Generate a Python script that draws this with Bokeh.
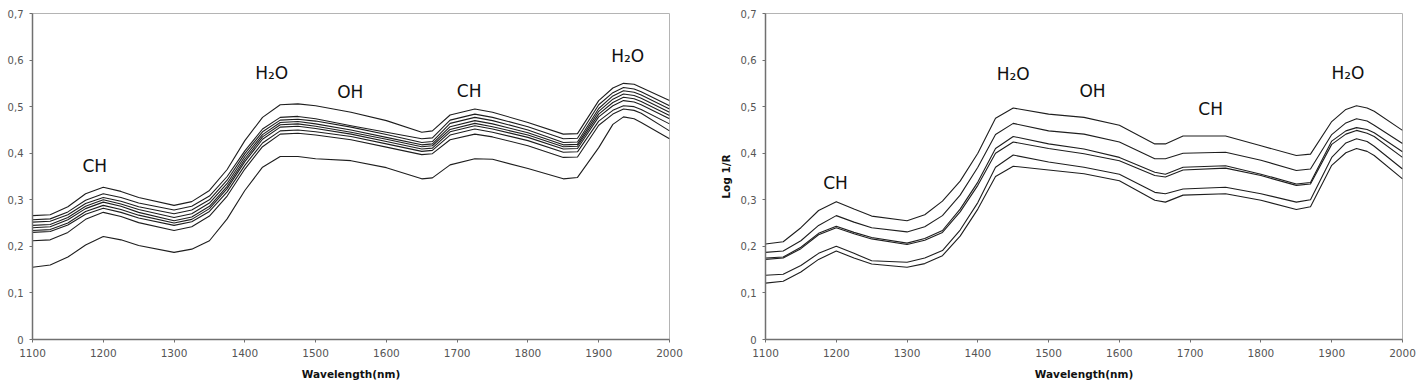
from bokeh.plotting import figure
from bokeh.layouts import row
from bokeh.models import FixedTicker, CustomJSTickFormatter, Range1d
from bokeh.core.properties import value
from bokeh.embed import file_html
from bokeh.resources import INLINE

# ---------------- data ----------------
x_ticks = [1100, 1200, 1300, 1400, 1500, 1600, 1700, 1800, 1900, 2000]
x_tick_labels = ["1100", "1200", "1300", "1400", "1500", "1600", "1700", "1800", "1900", "2000"]
y_ticks = [0, 0.1, 0.2, 0.3, 0.4, 0.5, 0.6, 0.7]
y_tick_labels = ["0", "0,1", "0,2", "0,3", "0,4", "0,5", "0,6", "0,7"]

wavelength_left = [1100, 1125, 1150, 1175, 1200, 1225, 1250, 1300, 1325, 1350, 1375, 1400, 1425,
                   1450, 1475, 1500, 1550, 1600, 1650, 1665, 1690, 1725, 1750, 1800, 1850, 1870,
                   1900, 1920, 1935, 1950, 1960, 2000]

left_s1 = [.266, .268, .285, .313, .327, .318, .305, .288, .296, .320, .365, .427, .477,
           .504, .506, .502, .488, .470, .445, .448, .482, .495, .488, .466, .441, .442,
           .513, .540, .550, .548, .541, .513]
left_s2 = [.257, .259, .274, .299, .313, .305, .293, .278, .286, .308, .350, .405, .452,
           .477, .479, .474, .459, .445, .431, .433, .471, .484, .477, .457, .431, .432,
           .504, .530, .541, .538, .532, .502]
left_s3 = [.252, .254, .268, .292, .305, .297, .285, .270, .278, .300, .342, .399, .446,
           .471, .473, .469, .456, .440, .423, .425, .464, .477, .470, .450, .423, .424,
           .496, .523, .534, .531, .525, .495]
left_s4 = [.245, .247, .262, .286, .300, .291, .279, .262, .270, .293, .335, .393, .440,
           .466, .468, .463, .450, .434, .418, .420, .457, .470, .463, .444, .418, .419,
           .490, .516, .527, .524, .518, .488]
left_s5 = [.240, .242, .257, .281, .295, .286, .273, .255, .263, .286, .329, .387, .435,
           .461, .463, .458, .445, .430, .414, .416, .451, .464, .457, .439, .414, .415,
           .484, .509, .520, .517, .511, .481]
left_s6 = [.234, .236, .250, .275, .288, .279, .267, .250, .258, .281, .324, .382, .430,
           .456, .458, .453, .441, .425, .409, .411, .446, .459, .452, .434, .409, .410,
           .478, .502, .513, .510, .504, .474]
left_s7 = [.230, .232, .246, .269, .282, .273, .261, .245, .253, .275, .317, .374, .422,
           .448, .450, .446, .436, .420, .404, .406, .439, .452, .445, .427, .402, .403,
           .469, .492, .502, .500, .494, .463]
left_s8 = [.212, .214, .230, .258, .273, .264, .251, .234, .242, .265, .308, .366, .414,
           .441, .443, .439, .429, .413, .397, .399, .429, .441, .435, .416, .391, .392,
           .460, .484, .495, .492, .486, .448]
left_s9 = [.155, .160, .177, .203, .221, .214, .202, .187, .194, .212, .259, .320, .370,
           .393, .393, .388, .384, .369, .345, .347, .375, .388, .387, .367, .345, .348,
           .412, .462, .478, .474, .466, .431]

wavelength_right = [1100, 1125, 1150, 1175, 1200, 1225, 1250, 1300, 1325, 1350, 1375, 1400, 1425,
                    1450, 1500, 1550, 1600, 1650, 1665, 1690, 1750, 1800, 1850, 1870, 1900,
                    1920, 1935, 1950, 1960, 2000]

right_s1 = [.205, .210, .240, .277, .296, .280, .265, .255, .268, .297, .340, .400, .475,
            .497, .484, .477, .460, .420, .420, .437, .437, .416, .395, .398, .468,
            .494, .502, .497, .490, .449]
right_s2 = [.187, .190, .212, .245, .266, .252, .240, .231, .242, .266, .310, .370, .440,
            .464, .448, .441, .424, .388, .388, .400, .402, .385, .363, .366, .440,
            .465, .474, .469, .460, .421]
right_s3 = [.175, .177, .198, .228, .243, .230, .219, .207, .217, .234, .280, .338, .410,
            .436, .420, .409, .391, .359, .355, .370, .373, .355, .334, .337, .426,
            .448, .455, .451, .444, .403]
right_s4 = [.172, .175, .195, .225, .240, .227, .216, .204, .213, .230, .274, .331, .400,
            .424, .410, .399, .384, .352, .349, .364, .368, .352, .331, .334, .419,
            .441, .449, .443, .436, .391]
right_s5 = [.138, .140, .159, .185, .200, .185, .169, .166, .175, .191, .235, .294, .370,
            .396, .381, .370, .355, .316, .313, .323, .327, .313, .295, .300, .391,
            .422, .431, .425, .415, .366]
right_s6 = [.121, .125, .145, .172, .190, .175, .162, .155, .163, .180, .222, .280, .350,
            .372, .364, .356, .341, .299, .295, .310, .313, .299, .279, .285, .374,
            .401, .410, .404, .395, .345]

left_label_text = ["CH", "H\u2082O", "OH", "CH", "H\u2082O"]
left_label_x = [1188, 1438, 1549, 1717, 1941]
left_label_y = [0.372, 0.572, 0.531, 0.533, 0.608]

right_label_text = ["CH", "H\u2082O", "OH", "CH", "H\u2082O"]
right_label_x = [1199, 1450, 1562, 1729, 1923]
right_label_y = [0.336, 0.571, 0.533, 0.494, 0.572]

x_axis_title = "Wavelength(nm)"
y_axis_title_right = "Log 1/R"

# ---------------- drawing ----------------
LINE_COLOR = "#1e1e1e"
FMT_CODE = ("const i = tvals.findIndex(t => Math.abs(t - tick) < 1e-6); "
            "return i >= 0 ? tlabels[i] : '';")


def make_fig(border_left, border_right, ytitle):
    p = figure(frame_width=637, frame_height=326,
               x_range=Range1d(1100, 2000), y_range=Range1d(0, 0.7),
               output_backend="svg", toolbar_location=None,
               min_border_left=border_left, min_border_right=border_right,
               min_border_top=13, min_border_bottom=47,
               background_fill_color="white", border_fill_color="white")
    p.xgrid.visible = False
    p.ygrid.visible = False
    p.outline_line_color = "#b4b4b4"
    p.outline_line_width = 1

    p.xaxis.ticker = FixedTicker(ticks=x_ticks)
    p.xaxis.formatter = CustomJSTickFormatter(
        args=dict(tvals=x_ticks, tlabels=x_tick_labels), code=FMT_CODE)
    p.yaxis.ticker = FixedTicker(ticks=y_ticks)
    p.yaxis.formatter = CustomJSTickFormatter(
        args=dict(tvals=y_ticks, tlabels=y_tick_labels), code=FMT_CODE)

    for ax in (p.xaxis[0], p.yaxis[0]):
        ax.axis_line_color = "#707070"
        ax.axis_line_width = 1.5
        ax.major_tick_line_color = "#707070"
        ax.major_tick_out = 3
        ax.major_tick_in = 0
        ax.minor_tick_line_color = None
        ax.major_label_text_color = "#555555"
        ax.major_label_text_font = "DejaVu Sans"
        ax.major_label_text_font_style = "normal"
        ax.major_label_standoff = 6

    p.xaxis.major_label_text_font_size = "10.5px"
    p.yaxis.major_label_text_font_size = "10px"

    p.xaxis.axis_label = x_axis_title
    p.xaxis.axis_label_text_font = "DejaVu Sans"
    p.xaxis.axis_label_text_font_style = "bold"
    p.xaxis.axis_label_text_font_size = "10.5px"
    p.xaxis.axis_label_text_color = "#111111"
    p.xaxis.axis_label_standoff = 8

    if ytitle:
        p.yaxis.axis_label = ytitle
        p.yaxis.axis_label_text_font = "DejaVu Sans"
        p.yaxis.axis_label_text_font_style = "bold"
        p.yaxis.axis_label_text_font_size = "10.5px"
        p.yaxis.axis_label_text_color = "#111111"
        p.yaxis.axis_label_standoff = 6
    return p


left = make_fig(32, 31, None)
for s in (left_s1, left_s2, left_s3, left_s4, left_s5, left_s6, left_s7, left_s8, left_s9):
    left.line(wavelength_left, s, line_color=LINE_COLOR, line_width=1.1, line_join="round")
left.text(x=left_label_x, y=left_label_y, text=left_label_text,
          text_font=value("DejaVu Sans"), text_font_size="17px",
          text_align="center", text_baseline="middle", text_color="#111111")

right = make_fig(65, 14, y_axis_title_right)
for s in (right_s1, right_s2, right_s3, right_s4, right_s5, right_s6):
    right.line(wavelength_right, s, line_color=LINE_COLOR, line_width=1.1, line_join="round")
right.text(x=right_label_x, y=right_label_y, text=right_label_text,
           text_font=value("DejaVu Sans"), text_font_size="17px",
           text_align="center", text_baseline="middle", text_color="#111111")

layout = row(left, right, spacing=0)

open("out.html", "w").write(file_html(layout, INLINE))
